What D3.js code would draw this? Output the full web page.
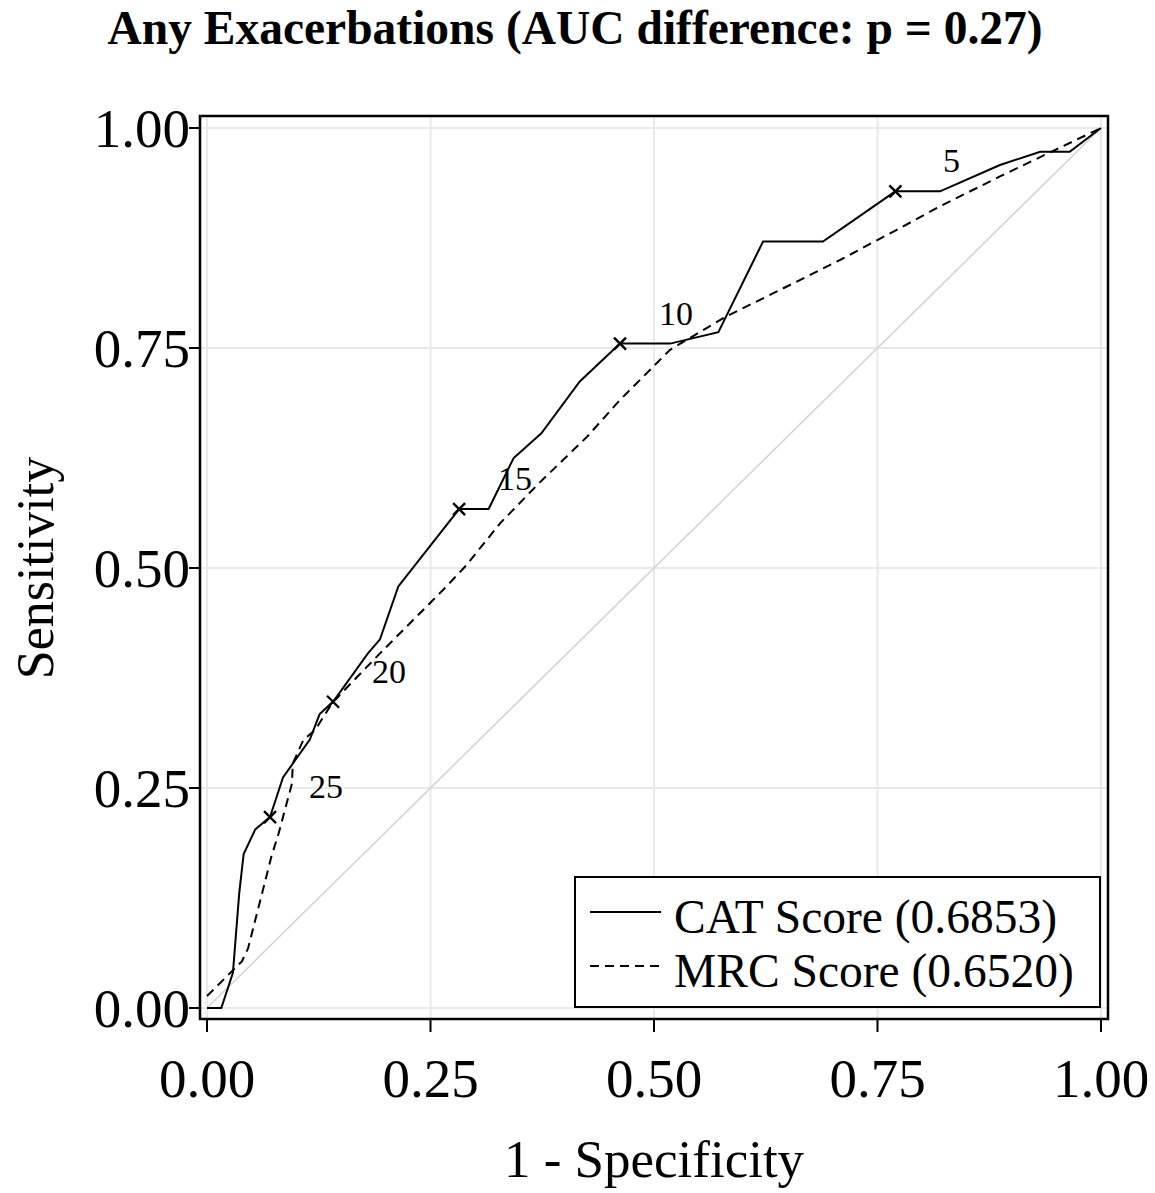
<!DOCTYPE html>
<html>
<head>
<meta charset="utf-8">
<script src="https://cdn.jsdelivr.net/npm/d3@7"></script>
<style>
  body { margin: 0; background: #fff; }
  text { font-family: "Liberation Serif", "Times New Roman", serif; fill: #000; }
</style>
</head>
<body>
<div id="my_dataviz"></div>
<script>
// ROC curve points (1 - specificity, sensitivity)
var catFpr = [0, 0.016, 0.029, 0.036, 0.041, 0.054, 0.0705, 0.085, 0.115, 0.126, 0.141, 0.180, 0.1935, 0.214, 0.282, 0.315, 0.343, 0.374, 0.417, 0.462, 0.518, 0.572, 0.622, 0.689, 0.770, 0.820, 0.887, 0.932, 0.965, 1.0];
var catTpr = [0, 0, 0.040, 0.130, 0.175, 0.203, 0.217, 0.262, 0.305, 0.334, 0.348, 0.403, 0.419, 0.479, 0.567, 0.567, 0.625, 0.653, 0.712, 0.755, 0.755, 0.768, 0.871, 0.871, 0.928, 0.928, 0.958, 0.973, 0.973, 1.0];

var mrcFpr = [0, 0.039, 0.046, 0.072, 0.080, 0.095, 0.096, 0.108, 0.121, 0.141, 0.1935, 0.264, 0.290, 0.328, 0.372, 0.425, 0.462, 0.518, 0.581, 0.641, 0.708, 0.771, 0.820, 0.887, 1.0];
var mrcTpr = [0.0136, 0.053, 0.068, 0.172, 0.198, 0.255, 0.278, 0.305, 0.316, 0.348, 0.403, 0.475, 0.503, 0.551, 0.597, 0.649, 0.691, 0.748, 0.786, 0.816, 0.850, 0.884, 0.911, 0.945, 1.0];

// CAT score cut-offs marked on the curve
var cutLabels = ["5", "10", "15", "20", "25"];
var cutFpr = [0.770, 0.462, 0.282, 0.141, 0.0705];
var cutTpr = [0.928, 0.755, 0.567, 0.348, 0.217];

var tickValues = [0, 0.25, 0.5, 0.75, 1];
var seriesNames = ["CAT Score (0.6853)", "MRC Score (0.6520)"];
var titleText = "Any Exacerbations (AUC difference: p = 0.27)";

var W = 1155, H = 1193;

var svg = d3.select("#my_dataviz")
    .append("svg")
    .attr("width", W)
    .attr("height", H);

var x = d3.scaleLinear().domain([0, 1]).range([207, 1101]);
var y = d3.scaleLinear().domain([0, 1]).range([1008, 128]);

var panel = { left: 200, right: 1108, top: 116, bottom: 1019 };

// grid
var grid = svg.append("g");
grid.selectAll(".gx").data(tickValues).enter().append("line")
    .attr("x1", d => x(d)).attr("x2", d => x(d))
    .attr("y1", panel.top).attr("y2", panel.bottom)
    .attr("stroke", "#e9e9e9").attr("stroke-width", 2);
grid.selectAll(".gy").data(tickValues).enter().append("line")
    .attr("y1", d => y(d)).attr("y2", d => y(d))
    .attr("x1", panel.left).attr("x2", panel.right)
    .attr("stroke", "#e9e9e9").attr("stroke-width", 2);

// reference diagonal
svg.append("line")
    .attr("x1", x(0)).attr("y1", y(0))
    .attr("x2", x(1)).attr("y2", y(1))
    .attr("stroke", "#d4d4d4").attr("stroke-width", 1.6);

var line = d3.line()
    .x(d => x(d[0]))
    .y(d => y(d[1]));

var catData = catFpr.map((v, i) => [v, catTpr[i]]);
var mrcData = mrcFpr.map((v, i) => [v, mrcTpr[i]]);

svg.append("path")
    .datum(mrcData)
    .attr("d", line)
    .attr("fill", "none")
    .attr("stroke", "#000")
    .attr("stroke-width", 2)
    .attr("stroke-dasharray", "9,6");

svg.append("path")
    .datum(catData)
    .attr("d", line)
    .attr("fill", "none")
    .attr("stroke", "#000")
    .attr("stroke-width", 2);

// cut-off markers and labels
var cuts = cutLabels.map((l, i) => ({ label: l, fx: cutFpr[i], ty: cutTpr[i] }));
var m = svg.append("g");
m.selectAll(".mk").data(cuts).enter().append("path")
    .attr("d", d => {
        var cx = x(d.fx), cy = y(d.ty), s = 6;
        return "M" + (cx - s) + "," + (cy - s) + "L" + (cx + s) + "," + (cy + s) +
               "M" + (cx - s) + "," + (cy + s) + "L" + (cx + s) + "," + (cy - s);
    })
    .attr("stroke", "#000").attr("stroke-width", 2.4);
m.selectAll(".lb").data(cuts).enter().append("text")
    .attr("x", d => x(d.fx) + 56)
    .attr("y", d => y(d.ty) - 19)
    .attr("text-anchor", "middle")
    .style("font-size", "34px")
    .text(d => d.label);

// panel frame
svg.append("rect")
    .attr("x", panel.left).attr("y", panel.top)
    .attr("width", panel.right - panel.left)
    .attr("height", panel.bottom - panel.top)
    .attr("fill", "none").attr("stroke", "#000").attr("stroke-width", 2.5);

// ticks and tick labels
svg.selectAll(".tx").data(tickValues).enter().append("line")
    .attr("x1", d => x(d)).attr("x2", d => x(d))
    .attr("y1", panel.bottom).attr("y2", panel.bottom + 13)
    .attr("stroke", "#000").attr("stroke-width", 2);
svg.selectAll(".ty").data(tickValues).enter().append("line")
    .attr("y1", d => y(d)).attr("y2", d => y(d))
    .attr("x1", panel.left).attr("x2", panel.left - 11)
    .attr("stroke", "#000").attr("stroke-width", 2);

svg.selectAll(".lx").data(tickValues).enter().append("text")
    .attr("x", d => x(d))
    .attr("y", 1097)
    .attr("text-anchor", "middle")
    .style("font-size", "55px")
    .text(d => d3.format(".2f")(d));
svg.selectAll(".ly").data(tickValues).enter().append("text")
    .attr("x", 190)
    .attr("y", d => y(d) + 19)
    .attr("text-anchor", "end")
    .style("font-size", "55px")
    .text(d => d3.format(".2f")(d));

// axis titles
svg.append("text")
    .attr("x", 654).attr("y", 1177)
    .attr("text-anchor", "middle")
    .style("font-size", "53px")
    .text("1 - Specificity");
svg.append("text")
    .attr("transform", "translate(53,568) rotate(-90)")
    .attr("text-anchor", "middle")
    .style("font-size", "52px")
    .text("Sensitivity");

// title
svg.append("text")
    .attr("x", 575).attr("y", 44)
    .attr("text-anchor", "middle")
    .style("font-size", "47.5px")
    .style("font-weight", "bold")
    .text(titleText);

// legend
var lg = svg.append("g");
lg.append("rect")
    .attr("x", 575).attr("y", 877)
    .attr("width", 525).attr("height", 130)
    .attr("fill", "#fff").attr("stroke", "#000").attr("stroke-width", 2);
var dashes = [null, "9,6"];
seriesNames.forEach(function (name, i) {
    var ly = 912 + i * 54;
    lg.append("line")
        .attr("x1", 590).attr("x2", 661)
        .attr("y1", ly).attr("y2", ly)
        .attr("stroke", "#000").attr("stroke-width", 2)
        .attr("stroke-dasharray", dashes[i]);
    lg.append("text")
        .attr("x", 674).attr("y", ly + 21)
        .style("font-size", "47.5px")
        .text(name);
});
</script>
</body>
</html>
